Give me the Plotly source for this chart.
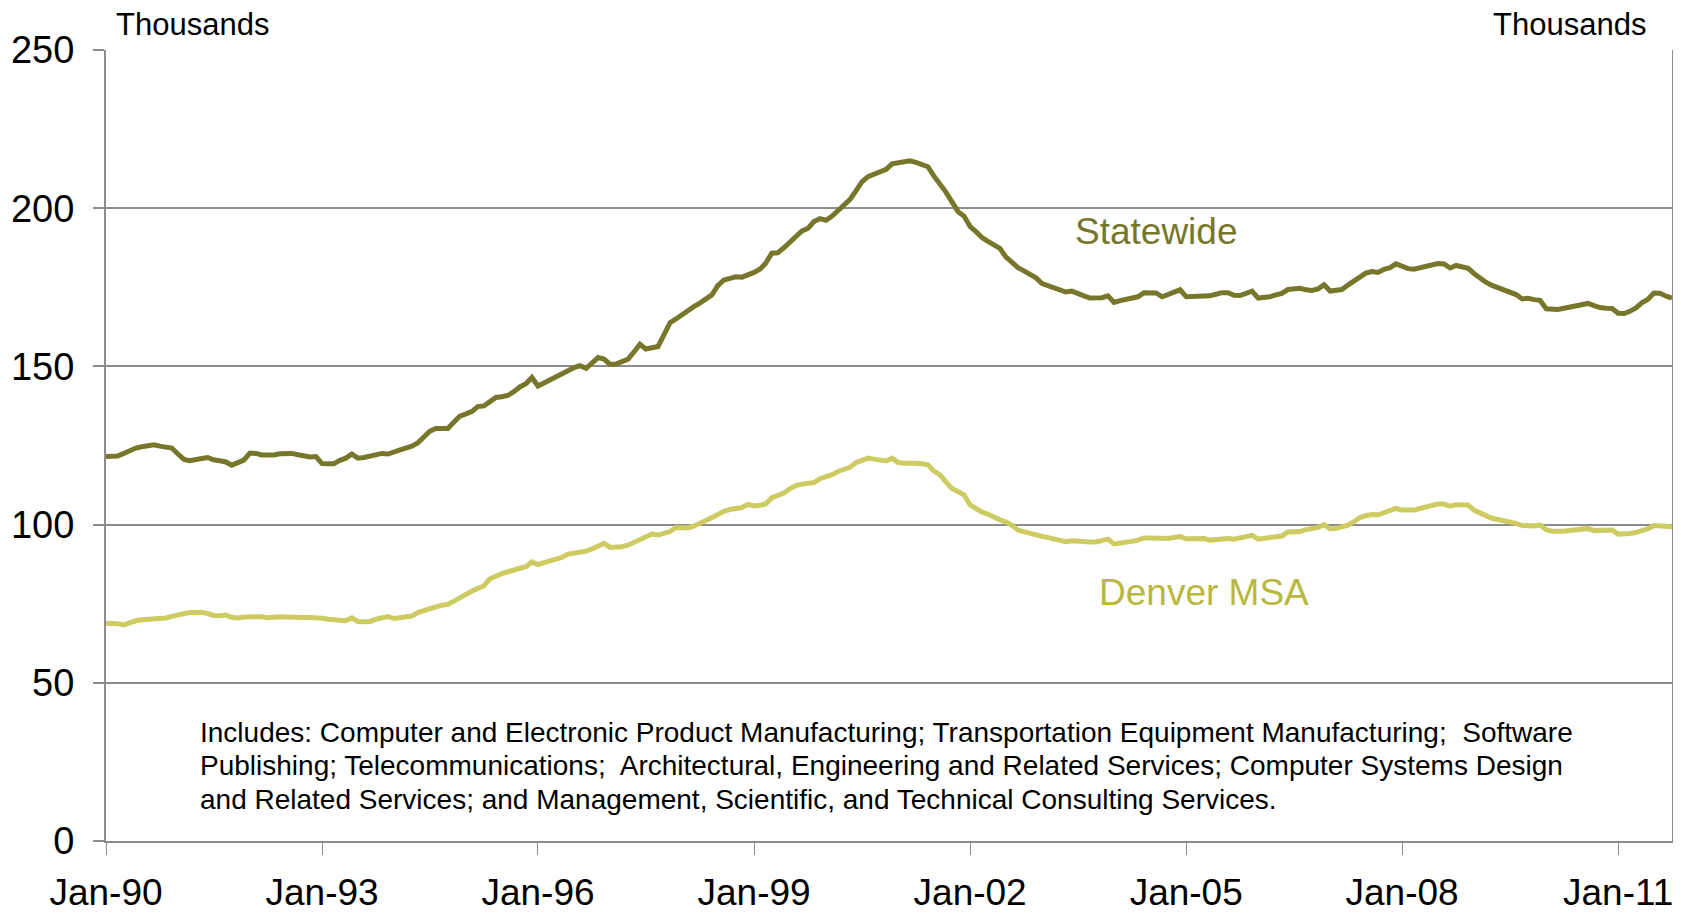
import pandas as pd
import plotly.graph_objects as go

# Monthly data, Jan 1990 - Oct 2011 (thousands of jobs)
start_month = "1990-01-01"

statewide = [
    # 1990
    121.5, 121.6, 121.7, 122.5, 123.5, 124.2, 124.6, 125.0, 125.2, 124.8, 124.3, 124.2,
    # 1991
    122.3, 120.6, 120.2, 120.4, 120.9, 121.2, 120.5, 120.2, 119.8, 118.8, 119.6, 120.4,
    # 1992
    122.6, 122.5, 122.0, 121.8, 122.0, 122.4, 122.5, 122.5, 122.1, 121.7, 121.4, 121.5,
    # 1993
    119.3, 119.2, 119.2, 120.3, 121.0, 122.3, 121.0, 121.2, 121.7, 122.2, 122.5, 122.3,
    # 1994
    122.8, 123.6, 124.2, 124.8, 125.8, 127.8, 129.5, 130.4, 130.4, 130.4, 132.4, 134.3,
    # 1995
    135.0, 135.8, 137.3, 137.5, 138.8, 140.2, 140.4, 140.8, 142.0, 143.5, 144.5, 146.5,
    # 1996
    143.8, 144.7, 145.5, 146.6, 147.7, 148.6, 149.6, 150.2, 149.4, 151.0, 152.8, 152.3,
    # 1997
    150.6, 150.8, 151.4, 152.2, 154.5, 157.0, 155.5, 155.9, 156.3, 160.0, 163.8, 165.0,
    # 1998
    166.5, 167.5, 168.9, 170.0, 171.2, 172.6, 175.5, 177.3, 177.8, 178.3, 178.2, 178.8,
    # 1999
    179.7, 180.8, 182.6, 185.8, 185.9, 187.5, 189.3, 191.3, 192.8, 193.6, 195.8, 196.7,
    # 2000
    196.2, 197.5, 199.3, 201.1, 202.7, 205.5, 208.3, 210.0, 210.8, 211.2, 212.3, 214.0,
    # 2001
    214.4, 214.8, 215.0, 214.5, 213.8, 213.1, 210.2, 207.8, 205.0, 202.0, 198.9, 197.5,
    # 2002
    194.2, 192.5, 190.8, 189.5, 188.3, 187.3, 184.6, 182.8, 181.2, 180.2, 179.0, 178.0,
    # 2003
    176.2, 175.4, 174.8, 174.1, 173.5, 173.8, 172.9, 172.3, 171.6, 171.6, 171.7, 172.3,
    # 2004
    170.2, 170.8, 171.3, 171.6, 172.0, 173.3, 173.3, 173.2, 172.0, 172.8, 173.2, 174.2,
    # 2005
    172.0, 172.1, 172.2, 172.3, 172.3, 172.8, 173.3, 173.3, 172.5, 172.4, 173.0, 173.8,
    # 2006
    171.6, 171.8, 172.0, 172.6, 173.1, 174.3, 174.6, 174.7, 174.2, 174.0, 174.5, 175.8,
    # 2007
    173.8, 174.0, 174.3, 175.7, 177.0, 178.6, 179.5, 180.0, 179.7, 180.7, 181.2, 182.4,
    # 2008
    181.5, 180.9, 180.7, 181.2, 181.7, 182.3, 182.5, 182.4, 181.1, 181.9, 181.3, 181.0,
    # 2009
    179.3, 177.8, 176.6, 175.6, 174.8, 174.2, 173.6, 172.7, 171.3, 171.5, 171.1, 170.9,
    # 2010
    168.2, 168.0, 168.0, 168.4, 168.7, 168.9, 169.6, 169.9, 169.2, 168.6, 168.4, 168.3,
    # 2011
    166.8, 166.7, 167.4, 168.5, 170.1, 171.2, 173.2, 173.1, 172.2, 171.6,
]

denver_msa = [
    # 1990
    68.8, 68.8, 68.7, 68.3, 69.0, 69.6, 69.9, 70.0, 70.1, 70.2, 70.5, 71.0,
    # 1991
    71.5, 71.8, 72.2, 72.2, 72.3, 71.9, 71.3, 71.2, 71.4, 70.7, 70.5, 70.8,
    # 1992
    70.9, 70.9, 70.9, 70.6, 70.8, 70.9, 70.8, 70.6, 70.6, 70.6, 70.6, 70.6,
    # 1993
    70.4, 70.1, 69.9, 69.7, 69.6, 70.5, 69.4, 69.3, 69.4, 70.1, 70.5, 70.9,
    # 1994
    70.3, 70.7, 71.1, 71.1, 72.2, 72.9, 73.5, 74.0, 74.5, 74.8, 75.8, 76.9,
    # 1995
    78.1, 79.0, 79.8, 80.6, 82.8, 83.8, 84.5, 85.1, 85.7, 86.3, 86.7, 88.2,
    # 1996
    87.4, 88.0, 88.5, 89.0, 89.6, 90.7, 91.0, 91.2, 91.6, 92.3, 93.2, 94.1,
    # 1997
    92.8, 92.8, 93.0, 93.5, 94.4, 95.6, 96.3, 97.0, 96.7, 97.3, 97.8, 99.1,
    # 1998
    99.1, 99.0, 99.5, 100.6, 101.3, 102.2, 103.4, 104.2, 104.8, 105.0, 105.4, 106.4,
    # 1999
    105.9, 106.1, 106.5, 108.5, 109.3, 110.0, 111.3, 112.3, 112.8, 113.0, 113.3, 114.5,
    # 2000
    115.0, 115.8, 116.8, 117.5, 118.1, 119.6, 120.3, 121.0, 120.7, 120.4, 120.1, 121.0,
    # 2001
    119.6, 119.4, 119.5, 119.4, 119.2, 118.9, 116.9, 115.8, 113.4, 111.4, 110.4, 109.4,
    # 2002
    106.2, 105.0, 104.0, 103.3, 102.3, 101.5, 100.9, 99.8, 98.2, 97.7, 97.0, 96.7,
    # 2003
    96.3, 95.9, 95.5, 95.0, 94.6, 94.9, 94.7, 94.6, 94.5, 94.5, 94.8, 95.4,
    # 2004
    93.9, 94.1, 94.4, 94.7, 95.1, 95.8, 95.8, 95.6, 95.4, 95.6, 95.9, 96.2,
    # 2005
    95.5, 95.4, 95.5, 95.6, 95.1, 95.3, 95.6, 95.6, 95.4, 95.7, 96.0, 96.6,
    # 2006
    95.4, 95.7, 96.0, 96.0, 96.4, 97.7, 97.8, 97.8, 98.4, 98.8, 99.1, 100.0,
    # 2007
    98.6, 98.8, 99.1, 99.8, 100.9, 102.2, 102.8, 103.2, 103.1, 103.7, 104.4, 105.1,
    # 2008
    104.6, 104.6, 104.6, 105.1, 105.6, 106.0, 106.5, 106.5, 105.8, 106.3, 106.3, 106.2,
    # 2009
    104.5, 103.5, 102.8, 102.0, 101.6, 101.3, 100.9, 100.4, 99.7, 99.6, 99.6, 99.9,
    # 2010
    98.4, 97.9, 97.8, 97.9, 98.1, 98.3, 98.8, 98.8, 98.1, 98.2, 98.3, 98.3,
    # 2011
    97.0, 96.9, 97.2, 97.5, 98.0, 98.7, 99.7, 99.7, 99.5, 99.2,
]

x_tick_labels = ["Jan-90", "Jan-93", "Jan-96", "Jan-99", "Jan-02", "Jan-05", "Jan-08", "Jan-11"]
x_tick_dates = ["1990-01-01", "1993-01-01", "1996-01-01", "1999-01-01",
                "2002-01-01", "2005-01-01", "2008-01-01", "2011-01-01"]
y_ticks = [0, 50, 100, 150, 200, 250]

note_lines = [
    "Includes: Computer and Electronic Product Manufacturing; Transportation Equipment Manufacturing;  Software",
    "Publishing; Telecommunications;  Architectural, Engineering and Related Services; Computer Systems Design",
    "and Related Services; and Management, Scientific, and Technical Consulting Services.",
]
note_y = [34.4, 24.0, 13.2]

dates = pd.date_range(start_month, periods=len(statewide), freq="MS")

STATE_COLOR = "#77772B"
DENVER_COLOR = "#CDCC62"
GRID = "#8C8C8C"
FONT = "Arial, Liberation Sans, sans-serif"

fig = go.Figure()
fig.add_trace(go.Scatter(x=dates, y=statewide, mode="lines", name="Statewide",
                         line=dict(color=STATE_COLOR, width=5)))
fig.add_trace(go.Scatter(x=dates[:len(denver_msa)], y=denver_msa, mode="lines", name="Denver MSA",
                         line=dict(color=DENVER_COLOR, width=5)))

# page body has an 8px margin, so the figure is sized to fit the 1681x914 window
fig.update_layout(
    width=1673, height=906,
    margin=dict(l=98, r=9, t=42, b=73),
    paper_bgcolor="white", plot_bgcolor="white",
    showlegend=False,
    font=dict(family=FONT, color="black", size=38),
    xaxis=dict(
        type="date",
        range=[dates[0], dates[-1]],
        tickvals=x_tick_dates, ticktext=x_tick_labels,
        showgrid=False, zeroline=False,
        showline=True, linecolor=GRID, linewidth=2,
        ticks="outside", ticklen=12, tickcolor=GRID, tickwidth=1,
        ticklabelstandoff=6,
        automargin=False,
        tickfont=dict(size=37, family=FONT, color="black"),
    ),
    yaxis=dict(
        range=[0, 250], tickvals=y_ticks,
        showgrid=True, gridcolor=GRID, gridwidth=1.5,
        zeroline=False,
        showline=True, mirror=True, linecolor=GRID, linewidth=2,
        ticks="outside", ticklen=11, tickcolor=GRID, tickwidth=1.5,
        ticklabelstandoff=11,
        automargin=False,
        tickfont=dict(size=38, family=FONT, color="black"),
    ),
)

fig.add_annotation(xref="paper", yref="paper", x=0.005, y=1.0, yshift=6,
                   xanchor="left", yanchor="bottom", showarrow=False,
                   text="Thousands", font=dict(size=31, family=FONT, color="black"))
fig.add_annotation(xref="paper", yref="paper", x=0.9845, y=1.0, yshift=6,
                   xanchor="right", yanchor="bottom", showarrow=False,
                   text="Thousands", font=dict(size=31, family=FONT, color="black"))
fig.add_annotation(xref="x", yref="y", x="2004-08-01", y=192.5,
                   xanchor="center", yanchor="middle", showarrow=False,
                   text="Statewide", font=dict(size=37, family=FONT, color=STATE_COLOR))
fig.add_annotation(xref="x", yref="y", x="2005-04-01", y=78.4,
                   xanchor="center", yanchor="middle", showarrow=False,
                   text="Denver MSA", font=dict(size=37, family=FONT, color="#B8B83E"))
for line_text, yv in zip(note_lines, note_y):
    fig.add_annotation(xref="paper", yref="y", x=0.0587, y=yv,
                       xanchor="left", yanchor="middle", showarrow=False, align="left",
                       text=line_text, font=dict(size=28, family=FONT, color="black"))

fig.write_html("out.html")
